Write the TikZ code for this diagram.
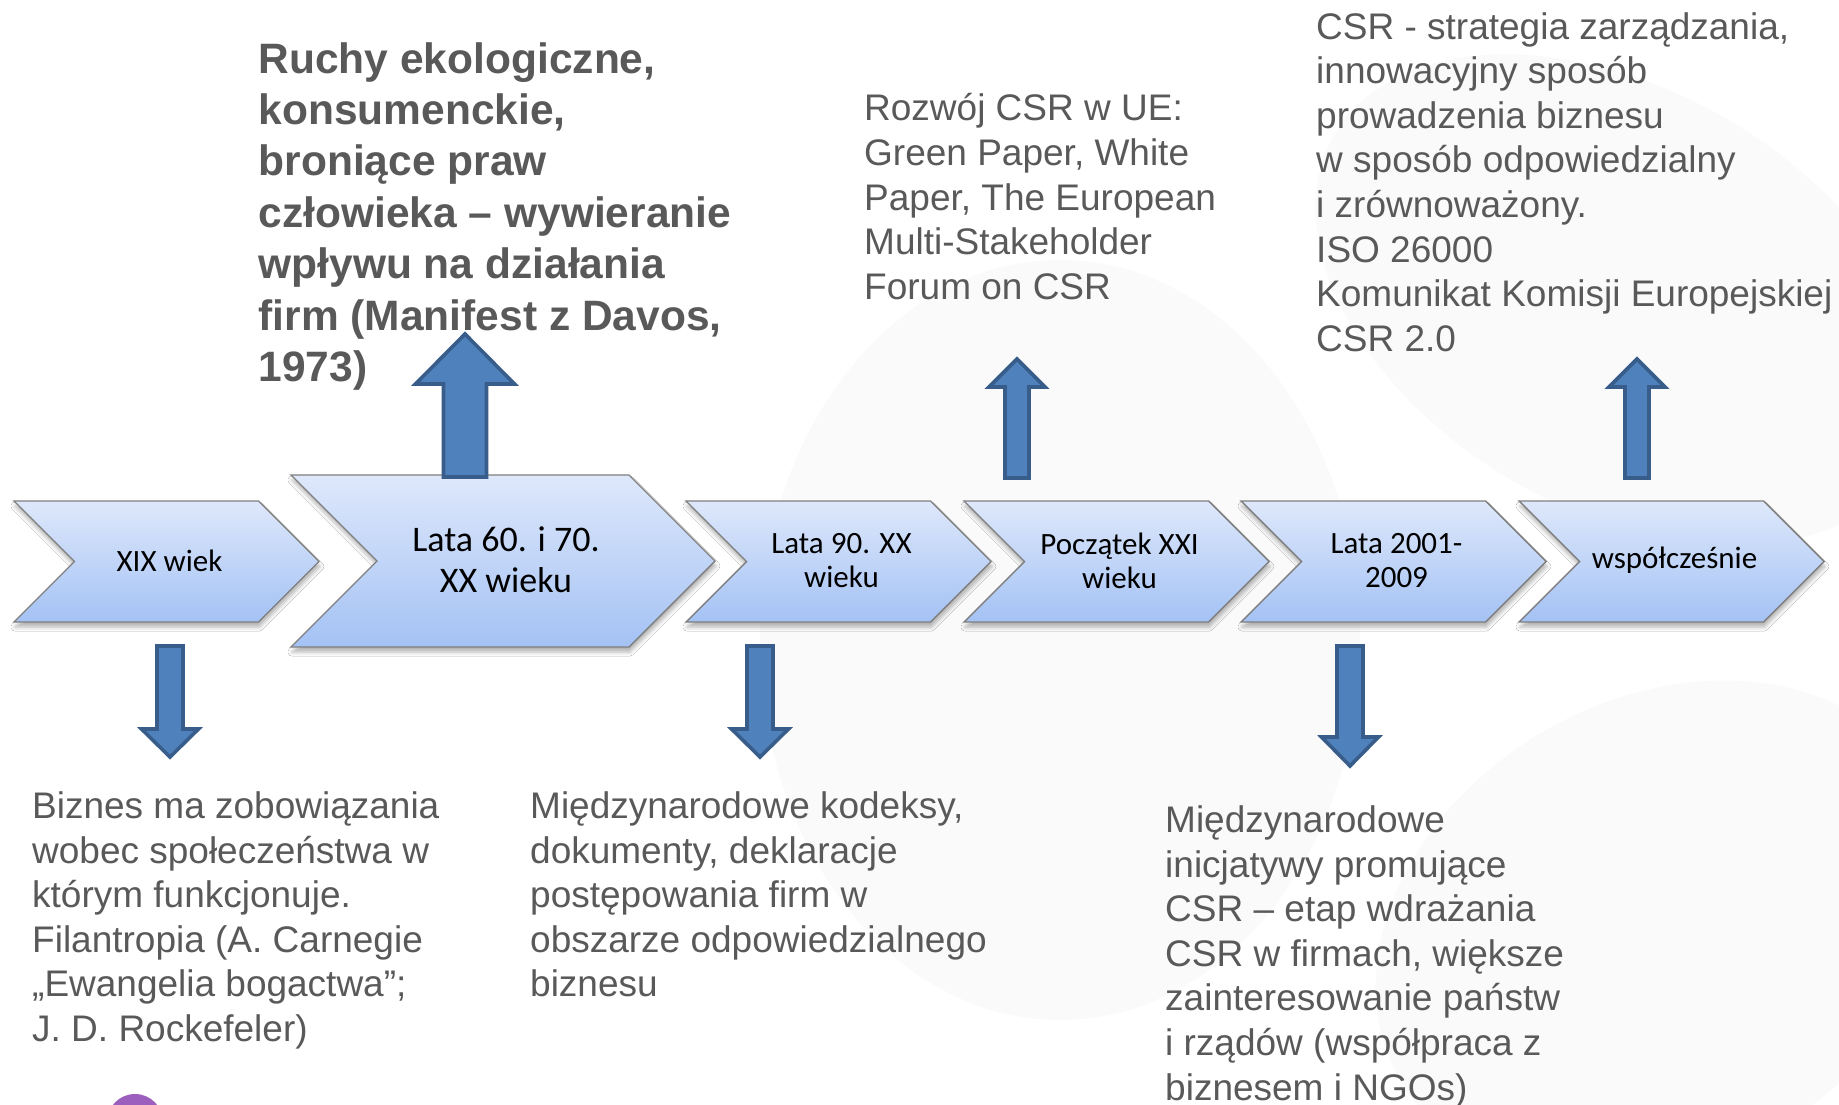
\documentclass[tikz,border=0pt]{standalone}
\usepackage{fontspec}
\setmainfont{Liberation Sans}
\newfontfamily\chevfont{Carlito}
\usetikzlibrary{shadows.blur}

\definecolor{txtgray}{HTML}{595959}
\definecolor{arrowfill}{HTML}{4F81BD}
\definecolor{arrowline}{HTML}{385D8A}
\definecolor{chevtop}{HTML}{DEE8FB}
\definecolor{chevbot}{HTML}{A4C2F4}
\definecolor{chevline}{HTML}{7F7F7F}
\definecolor{logopurple}{HTML}{9C5FBE}
\definecolor{watermark}{HTML}{FAFAFA}

\tikzset{
  x=1pt, y=-1pt,
  chevbox/.style={draw=chevline, line width=1.4pt, top color=chevtop, bottom color=chevbot,
    line join=miter,
    blur shadow={shadow xshift=1pt, shadow yshift=-5pt, shadow opacity=30, shadow blur radius=4pt}},
  chevsmall/.style={font=\chevfont\fontsize{31}{34}\selectfont, align=center, inner sep=0pt, text=black},
  chevbig/.style={font=\chevfont\fontsize{36}{41}\selectfont, align=center, inner sep=0pt, text=black},
  blockarrow/.style={fill=arrowfill, draw=arrowline, line width=3.6pt, line join=miter},
  plaintext/.style={font=\fontsize{37}{44.6}\selectfont, text=txtgray, align=left, inner sep=0pt, anchor=north west},
  boldtext/.style={font=\bfseries\fontsize{42.5}{51.4}\selectfont, text=txtgray, align=left, inner sep=0pt, anchor=north west},
}

% chevron: name, left x, top y, width, height, text style, text
\newcommand\chevron[7]{%
  \pgfmathsetmacro\cdep{#5/2}%
  \path[chevbox] (#2,#3) -- ++(#4-\cdep,0) -- ++(\cdep,\cdep) -- ++(-\cdep,\cdep)
     -- ++(-#4+\cdep,0) -- ++(\cdep,-\cdep) -- cycle;
  \node[#6] (#1) at (#2+#4/2+3,#3+#5/2-1) {#7};
}
% block arrow: centre x, shaft width, head width, tip y, head base y, tail y
\newcommand\blockarr[6]{%
  \path[blockarrow] (#1-#2/2,#6) -- (#1-#2/2,#5) -- (#1-#3/2,#5) -- (#1,#4)
     -- (#1+#3/2,#5) -- (#1+#2/2,#5) -- (#1+#2/2,#6) -- cycle;
}

\begin{document}
\begin{tikzpicture}
\useasboundingbox (0,0) rectangle (1839,1105);
\clip (0,0) rectangle (1839,1105);
\fill[white] (0,0) rectangle (1839,1105);

% faint watermark petals
\fill[watermark] (1060,640) ellipse [x radius=300, y radius=380];
\fill[watermark, rotate around={-30:(1620,300)}] (1620,300) ellipse [x radius=330, y radius=210];
\fill[watermark, rotate around={30:(1660,930)}] (1660,930) ellipse [x radius=300, y radius=230];

% small purple logo fragment
\fill[logopurple] (135,1122) circle [radius=28];

% timeline chevrons
\chevron{c1}{14}{501}{305}{121}{chevsmall}{XIX wiek}
\chevron{c2}{291}{475}{424}{172}{chevbig}{Lata 60. i 70.\\XX wieku}
\chevron{c3}{686}{501}{305}{121}{chevsmall}{Lata 90. XX\\wieku}
\chevron{c4}{964}{501}{305}{121}{chevsmall}{Początek XXI\\wieku}
\chevron{c5}{1241}{501}{305}{121}{chevsmall}{Lata 2001-\\2009}
\chevron{c6}{1519}{501}{305}{121}{chevsmall}{współcześnie}

% up arrows
\blockarr{465}{43}{99}{334}{384}{477}
\blockarr{1017}{24}{56}{359}{387}{478}
\blockarr{1637}{24}{56}{359}{387}{478}
% down arrows
\blockarr{170}{26}{57}{757}{729}{646}
\blockarr{760}{26}{57}{757}{729}{646}
\blockarr{1350}{26}{57}{766}{737}{646}

% descriptions
\node[boldtext] (t2) at (258.5,37) {\strut Ruchy ekologiczne,\\konsumenckie,\\broniące praw\\człowieka – wywieranie\\wpływu na działania\\firm (Manifest z Davos,\\1973)};
\node[plaintext] (t4) at (864,89.5) {\strut Rozwój CSR w UE:\\Green Paper, White\\Paper, The European\\Multi-Stakeholder\\Forum on CSR};
\node[plaintext] (t6) at (1316,7.7) {\strut CSR - strategia zarządzania,\\innowacyjny sposób\\prowadzenia biznesu\\w sposób odpowiedzialny\\i zrównoważony.\\ISO 26000\\Komunikat Komisji Europejskiej\\CSR 2.0};
\node[plaintext] (t1) at (32,787) {\strut Biznes ma zobowiązania\\wobec społeczeństwa w\\którym funkcjonuje.\\Filantropia (A. Carnegie\\„Ewangelia bogactwa”;\\J. D. Rockefeler)};
\node[plaintext] (t3) at (530,787) {\strut Międzynarodowe kodeksy,\\dokumenty, deklaracje\\postępowania firm w\\obszarze odpowiedzialnego\\biznesu};
\node[plaintext] (t5) at (1165,801) {\strut Międzynarodowe\\inicjatywy promujące\\CSR – etap wdrażania\\CSR w firmach, większe\\zainteresowanie państw\\i rządów (współpraca z\\biznesem i NGOs)};
\end{tikzpicture}
\end{document}
